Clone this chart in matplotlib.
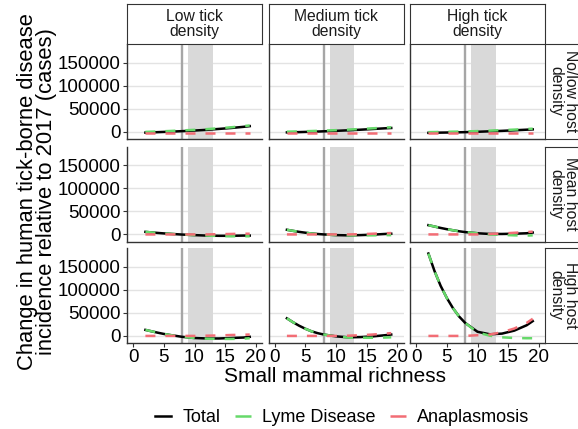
import matplotlib
matplotlib.use('Agg')
import matplotlib.pyplot as plt
import numpy as np
from matplotlib.lines import Line2D

plt.rcParams['font.family'] = ['Liberation Sans', 'DejaVu Sans']

# small mammal richness values where curves were read
richness = [2, 3, 4, 5, 6, 7, 8, 10, 12, 14, 16, 18, 19]

col_labels = ['Low tick\ndensity', 'Medium tick\ndensity', 'High tick\ndensity']
row_labels = ['No/low host\ndensity', 'Mean host\ndensity', 'High host\ndensity']

# Lyme disease change (cases), rows = host density, cols = tick density
lyme = [
    [[0, 500, 1000, 1500, 2000, 2600, 3200, 4500, 6000, 8000, 10000, 12500, 14000],
     [500, 800, 1100, 1500, 1900, 2300, 2800, 3800, 5000, 6300, 7800, 9300, 10000],
     [-500, -300, 0, 200, 500, 700, 1000, 1800, 2800, 3800, 5000, 6300, 7000]],
    [[5500, 4300, 3200, 2200, 1300, 500, -300, -1500, -2500, -3500, -4000, -4000, -4000],
     [10000, 7700, 5500, 3700, 2000, 900, 0, -1500, -2000, -2000, -2000, -1500, -1500],
     [20000, 17000, 14000, 11300, 9000, 6800, 5000, 2500, 0, -1000, -2000, -2500, -2000]],
    [[13000, 10000, 7000, 4300, 2000, 0, -2000, -4500, -6000, -6500, -6500, -6000, -5000],
     [38000, 29500, 22000, 15500, 10000, 6000, 3000, -1000, -3500, -4000, -4000, -3500, -3000],
     [178000, 140000, 108000, 82000, 60000, 42000, 28000, 7500, 500, -3000, -4500, -5000, -5000]],
]

# Anaplasmosis change (cases)
anaplasmosis = [
    [[-1500, -1500, -1500, -1500, -1500, -1500, -1500, -1500, -1500, -1500, -1500, -1500, -1500],
     [-1500, -1500, -1500, -1500, -1500, -1500, -1500, -1500, -1500, -1500, -1500, -1500, -1500],
     [-1500, -1500, -1500, -1500, -1500, -1500, -1500, -1500, -1500, -1500, -1500, -1500, -1500]],
    [[0, 0, 0, 0, 0, 0, 0, 0, 0, 500, 1000, 1500, 1500],
     [0, 0, 0, 0, 0, 0, 0, 0, 0, 500, 1500, 2500, 3000],
     [0, 0, 0, 0, 0, 0, 0, 0, 1000, 2000, 3500, 5000, 6000]],
    [[0, 0, 0, 0, 0, 0, 0, 0, 500, 1000, 2000, 2500, 3000],
     [0, 0, 0, 0, 0, 0, 0, 0, 500, 1500, 3000, 5000, 6000],
     [0, 0, 0, 0, 0, 0, 0, 1500, 3000, 8000, 16000, 28000, 37000]],
]

current_richness = 8
band = (9, 13)

W, H = 578, 429
fig = plt.figure(figsize=(W / 100, H / 100), dpi=100)

def px(l, t, w, h):
    return [l / W, 1 - (t + h) / H, w / W, h / H]

col_left = [127, 268.5, 410]
panel_w = 135
row_top = [44, 146.5, 248]
panel_h = 95

green = '#66D96A'
red = '#F26D75'

for r in range(3):
    for c in range(3):
        ax = fig.add_axes(px(col_left[c], row_top[r], panel_w, panel_h))
        ax.axvspan(band[0], band[1], color='#D9D9D9', lw=0, zorder=1)
        ax.axvline(current_richness, color='#A6A6A6', lw=1.7, zorder=2)
        for yv in [0, 50000, 100000, 150000]:
            ax.axhline(yv, color='#E3E3E3', lw=1, zorder=0.5)
        ly = np.array(lyme[r][c])
        an = np.array(anaplasmosis[r][c])
        ax.plot(richness, ly + an, color='black', lw=1.8, zorder=3)
        ax.plot(richness, ly, color=green, lw=1.8, dashes=(4, 4), zorder=4)
        ax.plot(richness, an, color=red, lw=1.8, dashes=(4, 4), zorder=4)
        ax.set_xlim(-1, 21)
        ax.set_ylim(-15300, 190000)
        ax.set_xticks([0, 5, 10, 15, 20])
        ax.set_yticks([0, 50000, 100000, 150000])
        for s in ['top', 'right']:
            ax.spines[s].set_visible(False)
        for s in ['left', 'bottom']:
            ax.spines[s].set_color('#333333')
            ax.spines[s].set_linewidth(1)
        ax.tick_params(colors='#333333', labelcolor='black', labelsize=13.5,
                       length=3, width=0.8, pad=1.5)
        if c != 0:
            ax.tick_params(axis='y', left=False, labelleft=False)
        if r != 2:
            ax.tick_params(axis='x', bottom=False, labelbottom=False)
        ax.set_facecolor('white')

# top strips
for c in range(3):
    sax = fig.add_axes(px(col_left[c], 4, panel_w, 40))
    sax.set_xticks([])
    sax.set_yticks([])
    for s in sax.spines.values():
        s.set_color('#333333')
    sax.text(0.5, 0.5, col_labels[c], ha='center', va='center', fontsize=11.3,
             color='#1A1A1A', linespacing=0.95, transform=sax.transAxes)

# right strips
for r in range(3):
    sax = fig.add_axes(px(545, row_top[r], 40, panel_h))
    sax.set_xticks([])
    sax.set_yticks([])
    for s in sax.spines.values():
        s.set_color('#333333')
    sax.text(0.45, 0.5, row_labels[r], ha='center', va='center', fontsize=11.3,
             color='#1A1A1A', rotation=-90, linespacing=0.95, transform=sax.transAxes)

fig.text(335 / W, 1 - 377 / H, 'Small mammal richness', ha='center',
         va='center', fontsize=15)
fig.text(37 / W, 1 - 192 / H,
         'Change in human tick-borne disease\nincidence relative to 2017 (cases)',
         ha='center', va='center', rotation=90, fontsize=15.8, linespacing=0.92)

handles = [Line2D([], [], color='black', lw=1.8),
           Line2D([], [], color=green, lw=1.8, dashes=(8, 4)),
           Line2D([], [], color=red, lw=1.8, dashes=(8, 4))]
fig.legend(handles, ['Total', 'Lyme Disease', 'Anaplasmosis'], loc='center',
           bbox_to_anchor=(342 / W, 1 - 418 / H), ncol=3, frameon=False,
           fontsize=13, handlelength=0.9, columnspacing=0.8, handletextpad=0.6)

fig.savefig('out.png', dpi=100)
